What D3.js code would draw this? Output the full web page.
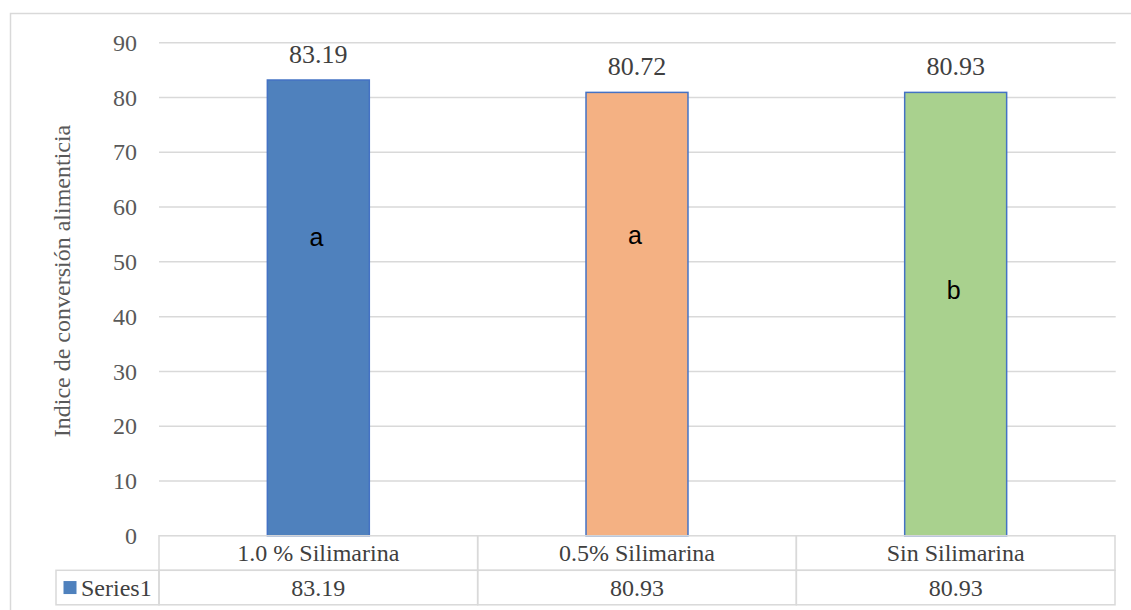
<!DOCTYPE html>
<html>
<head>
<meta charset="utf-8">
<script src="https://cdn.jsdelivr.net/npm/d3@7"></script>
<style>
  body { margin: 0; background: #fff; }
</style>
</head>
<body>
<div id="chart"></div>
<script>
// datos del gráfico
var categories = ["1.0 % Silimarina", "0.5% Silimarina", "Sin Silimarina"];
var barValues = [83.19, 80.93, 80.93];
var labelTexts = ["83.19", "80.72", "80.93"];
var tableValues = ["83.19", "80.93", "80.93"];
var letters = ["a", "a", "b"];
var letterLevels = [54.5, 54.8, 44.9];
var barColors = ["#4F81BD", "#F4B183", "#A9D18E"];
var yTicks = [0, 10, 20, 30, 40, 50, 60, 70, 80, 90];
var seriesName = "Series1";
var yTitle = "Indice de conversión alimenticia";

var width = 1131, height = 610;
var plotLeft = 159, plotRight = 1115, plotTop = 42.7, plotBottom = 535.8;
var serif = "'Liberation Serif', 'Times New Roman', serif";
var sans = "'Liberation Sans', Arial, sans-serif";

var svg = d3.select("#chart")
  .append("svg")
  .attr("width", width)
  .attr("height", height);

// marco exterior
svg.append("rect")
  .attr("x", 10.5).attr("y", 13.5)
  .attr("width", 1140).attr("height", 620)
  .attr("fill", "none")
  .attr("stroke", "#d9d9d9")
  .attr("stroke-width", 1.5);

var x = d3.scaleBand().domain(categories).range([plotLeft, plotRight]).padding(0);
var y = d3.scaleLinear().domain([0, 90]).range([plotBottom, plotTop]);

// líneas de cuadrícula
svg.append("g")
  .selectAll("line")
  .data(yTicks.filter(d => d > 0))
  .enter()
  .append("line")
  .attr("x1", plotLeft).attr("x2", plotRight + 0.7)
  .attr("y1", d => y(d)).attr("y2", d => y(d))
  .attr("stroke", "#d9d9d9")
  .attr("stroke-width", 1.5);

// etiquetas del eje Y
var yAxis = svg.append("g")
  .attr("transform", "translate(" + (plotLeft - 22) + ",0)")
  .call(d3.axisLeft(y).tickValues(yTicks).tickSize(0).tickPadding(0));
yAxis.select(".domain").remove();
yAxis.selectAll("text")
  .style("font-family", serif)
  .style("font-size", "24px")
  .attr("fill", "#595959");

// título del eje Y
svg.append("text")
  .attr("transform", "translate(70,281) rotate(-90)")
  .attr("text-anchor", "middle")
  .style("font-family", serif)
  .style("font-size", "24px")
  .attr("fill", "#595959")
  .text(yTitle);

var barW = x.bandwidth() * 0.32;

// barras
svg.append("g")
  .selectAll("rect")
  .data(barValues)
  .enter()
  .append("rect")
  .attr("x", (d, i) => x(categories[i]) + x.bandwidth() / 2 - barW / 2)
  .attr("y", d => y(d))
  .attr("width", barW)
  .attr("height", d => y(0) - y(d))
  .attr("fill", (d, i) => barColors[i])
  .attr("stroke", "#4472C4")
  .attr("stroke-width", 1.5);

// etiquetas de datos
svg.append("g")
  .selectAll("text")
  .data(barValues)
  .enter()
  .append("text")
  .attr("x", (d, i) => x(categories[i]) + x.bandwidth() / 2)
  .attr("y", d => y(d) - 17)
  .attr("text-anchor", "middle")
  .style("font-family", serif)
  .style("font-size", "26px")
  .attr("fill", "#404040")
  .text((d, i) => labelTexts[i]);

// letras de significancia
svg.append("g")
  .selectAll("text")
  .data(letters)
  .enter()
  .append("text")
  .attr("x", (d, i) => x(categories[i]) + x.bandwidth() / 2 - 2)
  .attr("y", (d, i) => y(letterLevels[i]))
  .attr("dy", "0.35em")
  .attr("text-anchor", "middle")
  .style("font-family", sans)
  .style("font-size", "25px")
  .attr("fill", "#000")
  .text(d => d);

// tabla de datos
var rowH = 34.5;
var table = svg.append("g");
var gridStroke = "#d9d9d9";

// fila de categorías
table.selectAll("rect.cat")
  .data(categories)
  .enter()
  .append("rect")
  .attr("class", "cat")
  .attr("x", d => x(d))
  .attr("y", plotBottom)
  .attr("width", x.bandwidth())
  .attr("height", rowH)
  .attr("fill", "none")
  .attr("stroke", gridStroke)
  .attr("stroke-width", 1.5);

table.selectAll("text.cat")
  .data(categories)
  .enter()
  .append("text")
  .attr("class", "cat")
  .attr("x", d => x(d) + x.bandwidth() / 2)
  .attr("y", plotBottom + rowH / 2)
  .attr("dy", "0.35em")
  .attr("text-anchor", "middle")
  .style("font-family", serif)
  .style("font-size", "24px")
  .attr("fill", "#404040")
  .text(d => d);

// fila de valores
table.selectAll("rect.val")
  .data(categories)
  .enter()
  .append("rect")
  .attr("class", "val")
  .attr("x", d => x(d))
  .attr("y", plotBottom + rowH)
  .attr("width", x.bandwidth())
  .attr("height", rowH)
  .attr("fill", "none")
  .attr("stroke", gridStroke)
  .attr("stroke-width", 1.5);

table.selectAll("text.val")
  .data(tableValues)
  .enter()
  .append("text")
  .attr("class", "val")
  .attr("x", (d, i) => x(categories[i]) + x.bandwidth() / 2)
  .attr("y", plotBottom + rowH * 1.5)
  .attr("dy", "0.35em")
  .attr("text-anchor", "middle")
  .style("font-family", serif)
  .style("font-size", "24px")
  .attr("fill", "#404040")
  .text(d => d);

// celda de la leyenda
table.append("rect")
  .attr("x", 56)
  .attr("y", plotBottom + rowH)
  .attr("width", plotLeft - 56)
  .attr("height", rowH)
  .attr("fill", "none")
  .attr("stroke", gridStroke)
  .attr("stroke-width", 1.5);

table.append("rect")
  .attr("x", 63.5)
  .attr("y", plotBottom + rowH * 1.5 - 6.5)
  .attr("width", 13)
  .attr("height", 13)
  .attr("fill", barColors[0]);

table.append("text")
  .attr("x", 81)
  .attr("y", plotBottom + rowH * 1.5)
  .attr("dy", "0.35em")
  .style("font-family", serif)
  .style("font-size", "24px")
  .attr("fill", "#404040")
  .text(seriesName);
</script>
</body>
</html>
